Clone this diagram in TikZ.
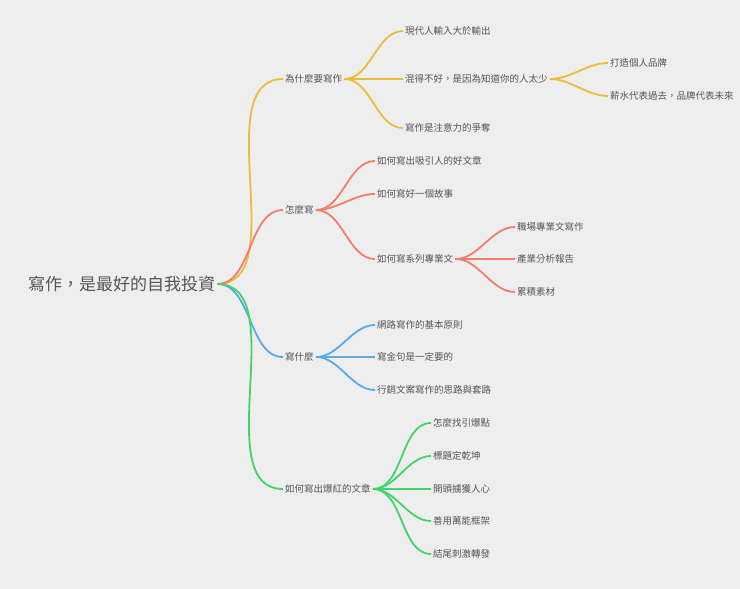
\documentclass[tikz,border=0pt]{standalone}
\usepackage{fontspec}
\newfontfamily\cjk{Noto Sans CJK TC}
\definecolor{bg}{HTML}{EEEEEE}
\definecolor{tx}{HTML}{555555}
\definecolor{cy}{HTML}{E9BC3A}
\definecolor{cr}{HTML}{F47D6C}
\definecolor{cb}{HTML}{5AAAE8}
\definecolor{cg}{HTML}{40D46A}
\tikzset{
 lbl/.style={anchor=west,inner sep=2pt,text=tx,font=\cjk\fontsize{9.5}{11}\selectfont},
 br/.style={line width=1.8pt,out=0,in=180,looseness=0.9},
}
\begin{document}
\begin{tikzpicture}[x=1pt,y=-1pt]
\fill[bg] (0,0) rectangle (740,589);
\useasboundingbox (0,0) rectangle (740,589);
\node[anchor=west,inner sep=2pt,text=tx,font=\cjk\fontsize{17}{19}\selectfont] (root) at (26,284) {寫作，是最好的自我投資};
% branches
\node[lbl] (a) at (283,79) {為什麼要寫作};
\node[lbl] (b) at (283,210) {怎麼寫};
\node[lbl] (c) at (283,357) {寫什麼};
\node[lbl] (d) at (283,489) {如何寫出爆紅的文章};
% a
\node[lbl] (a1) at (403,31) {現代人輸入大於輸出};
\node[lbl] (a2) at (403,79) {混得不好，是因為知道你的人太少};
\node[lbl] (a3) at (403,128) {寫作是注意力的爭奪};
\node[lbl] (a21) at (608,63) {打造個人品牌};
\node[lbl] (a22) at (608,96) {薪水代表過去，品牌代表未來};
% b
\node[lbl] (b1) at (375,161) {如何寫出吸引人的好文章};
\node[lbl] (b2) at (375,194) {如何寫好一個故事};
\node[lbl] (b3) at (375,259) {如何寫系列專業文};
\node[lbl] (b31) at (515,227) {職場專業文寫作};
\node[lbl] (b32) at (515,259) {產業分析報告};
\node[lbl] (b33) at (515,292) {累積素材};
% c
\node[lbl] (c1) at (375,325) {網路寫作的基本原則};
\node[lbl] (c2) at (375,357) {寫金句是一定要的};
\node[lbl] (c3) at (375,390) {行銷文案寫作的思路與套路};
% d
\node[lbl] (d1) at (431,423) {怎麼找引爆點};
\node[lbl] (d2) at (431,456) {標題定乾坤};
\node[lbl] (d3) at (431,489) {開頭擄獲人心};
\node[lbl] (d4) at (431,521) {善用萬能框架};
\node[lbl] (d5) at (431,554) {結尾刺激轉發};
% connectors
\draw[br,cy] (root.east) to (a.west);
\draw[br,cr] (root.east) to (b.west);
\draw[br,cb] (root.east) to (c.west);
\draw[br,cg] (root.east) to (d.west);
\foreach \t in {a1,a2,a3} \draw[br,cy] (a.east) to (\t.west);
\foreach \t in {a21,a22} \draw[br,cy] (a2.east) to (\t.west);
\foreach \t in {b1,b2,b3} \draw[br,cr] (b.east) to (\t.west);
\foreach \t in {b31,b32,b33} \draw[br,cr] (b3.east) to (\t.west);
\foreach \t in {c1,c2,c3} \draw[br,cb] (c.east) to (\t.west);
\foreach \t in {d1,d2,d3,d4,d5} \draw[br,cg] (d.east) to (\t.west);
\end{tikzpicture}
\end{document}
